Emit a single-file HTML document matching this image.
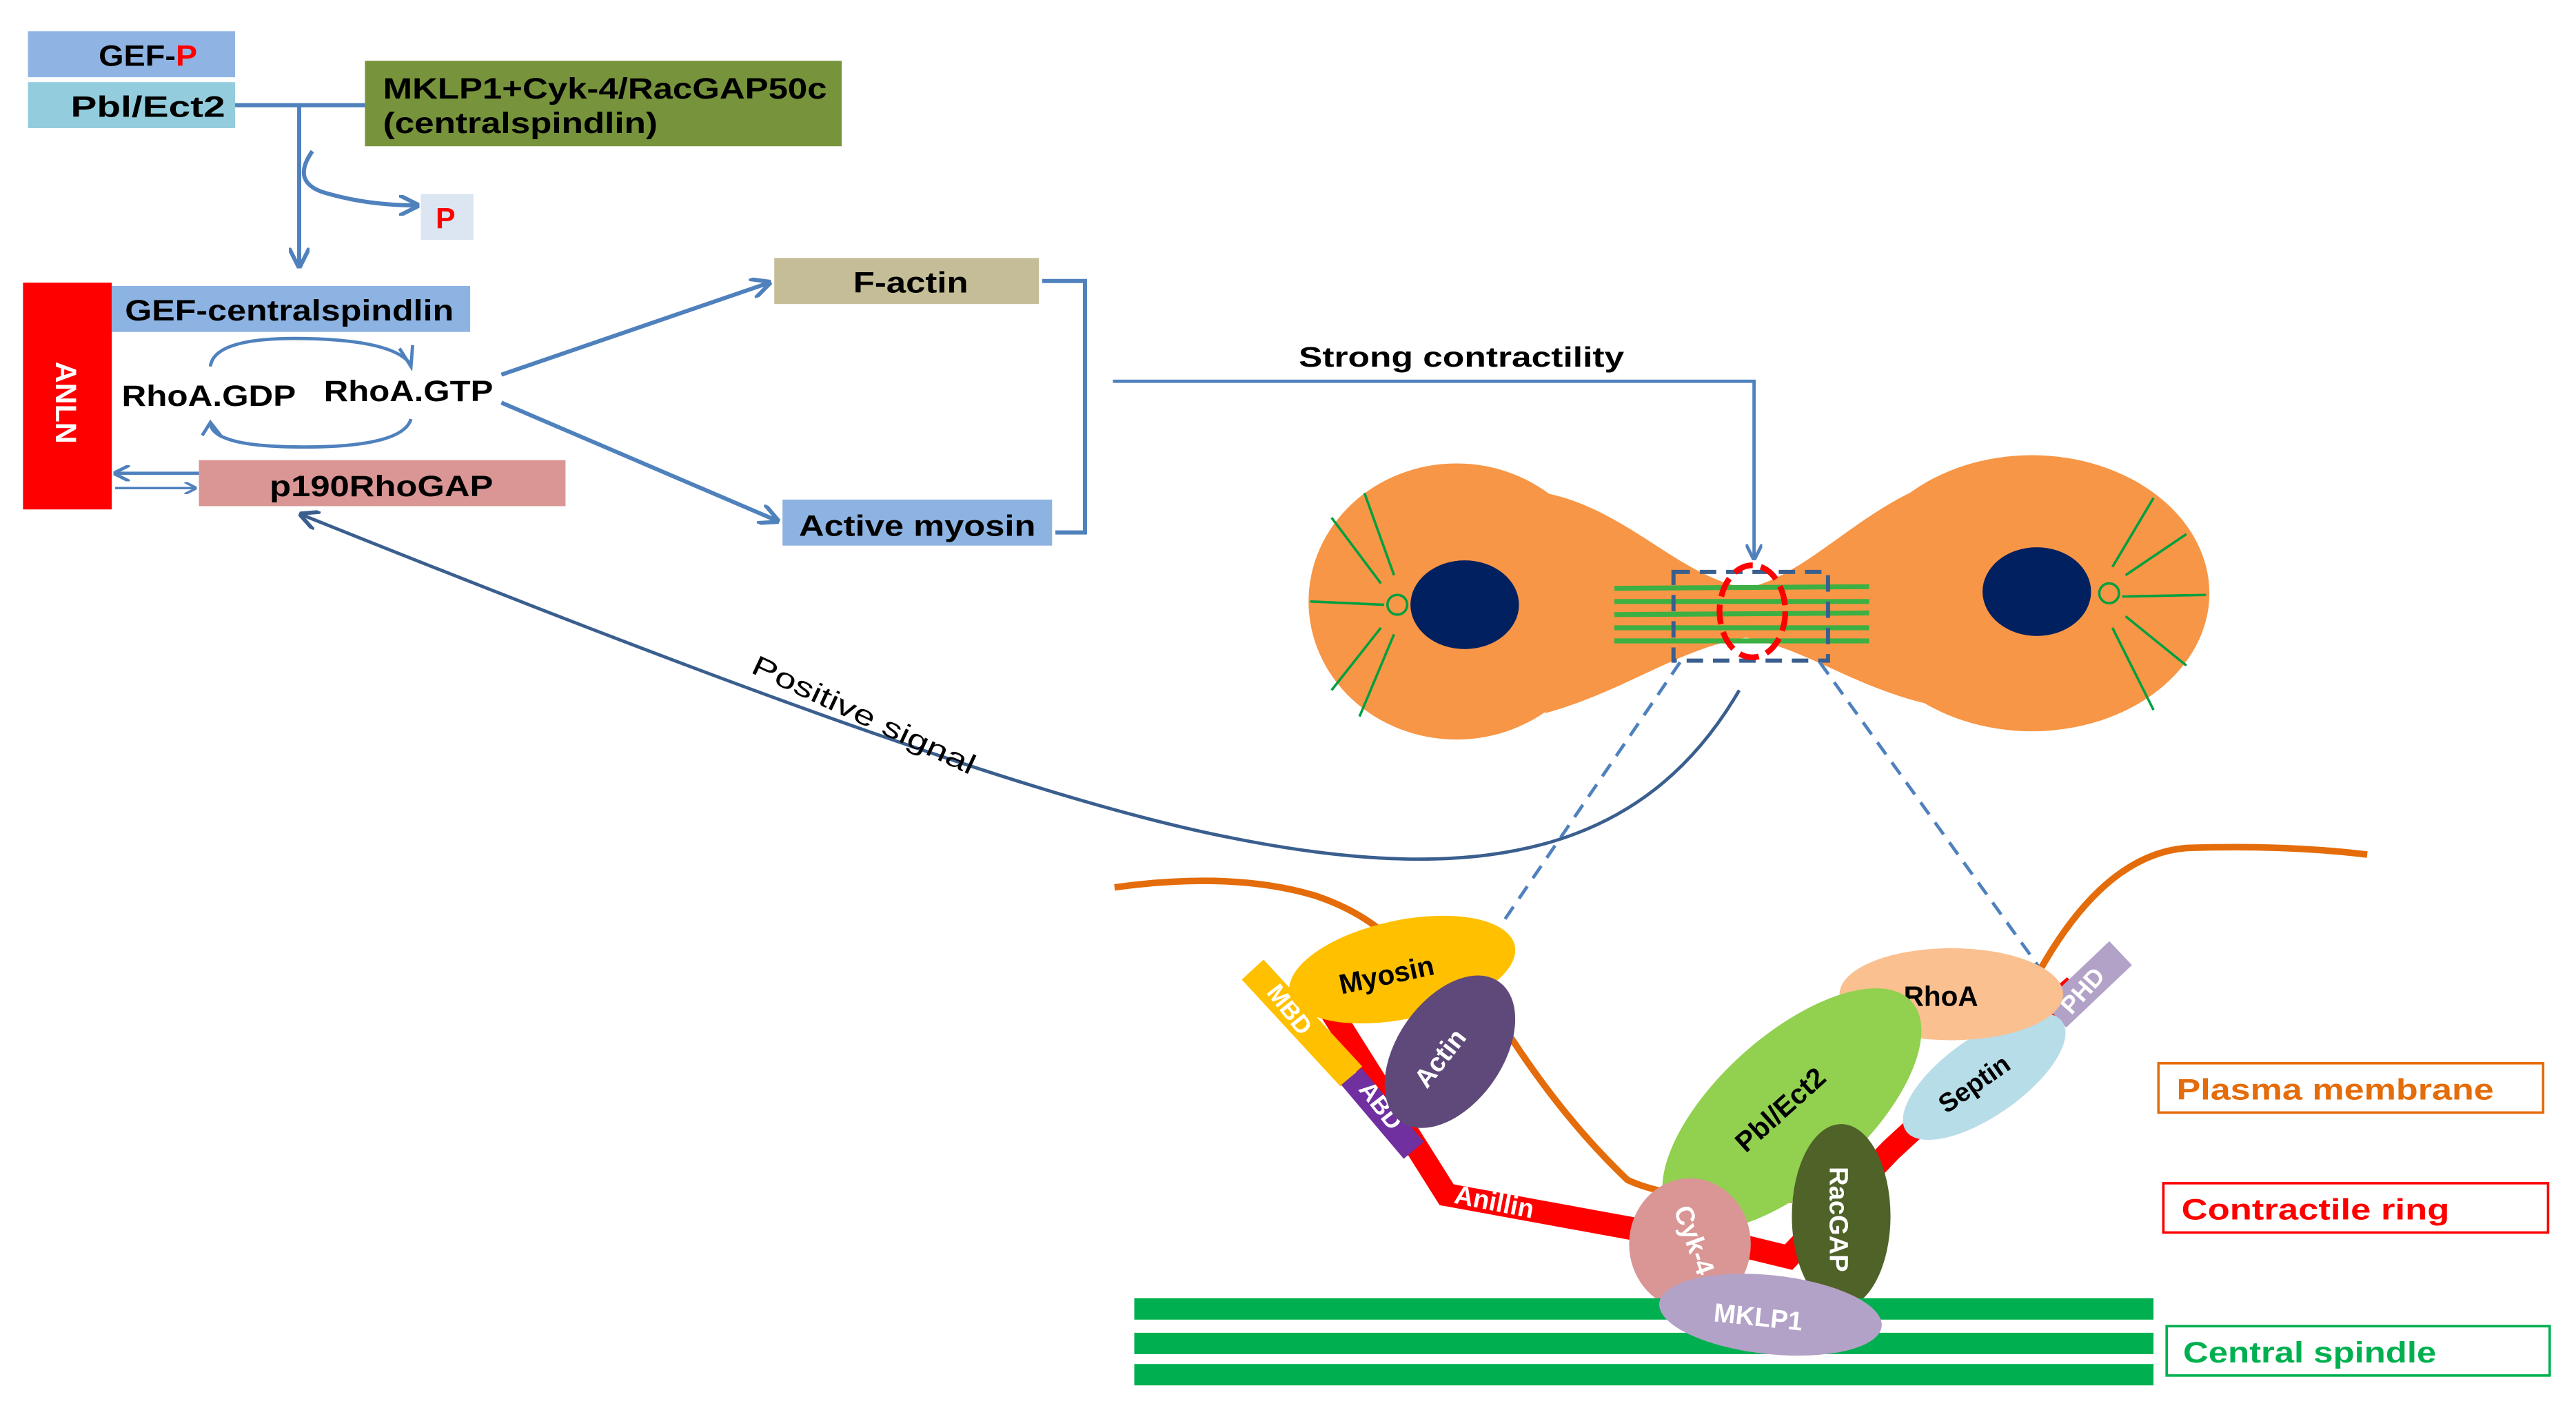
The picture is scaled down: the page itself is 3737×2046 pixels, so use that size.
<!DOCTYPE html>
<html><head><meta charset="utf-8"><style>
html,body{margin:0;padding:0;background:#fff;}
svg{display:block;}
text{font-family:"Liberation Sans",sans-serif;font-weight:bold;}
</style></head><body>
<svg width="3737" height="2046" viewBox="0 0 1567 858" preserveAspectRatio="none" xmlns="http://www.w3.org/2000/svg">
<defs>
<marker id="ah" viewBox="0 0 10 10" refX="9" refY="5" markerWidth="5" markerHeight="5" orient="auto"><path d="M0,0 L10,5 L0,10" fill="none" stroke="#4f81bd" stroke-width="2"/></marker>
<marker id="ah2" viewBox="0 0 10 10" refX="9" refY="5" markerWidth="6" markerHeight="6" orient="auto"><path d="M0,0 L10,5 L0,10" fill="none" stroke="#3a5f8f" stroke-width="2"/></marker>
</defs>
<rect x="17" y="19" width="126" height="28" fill="#8fb4e3"/>
<text x="60" y="40" font-size="18" textLength="60" lengthAdjust="spacingAndGlyphs">GEF-<tspan fill="#ff0000">P</tspan></text>
<rect x="17" y="50" width="126" height="28" fill="#93cddd"/>
<text x="43" y="71" font-size="18" textLength="94" lengthAdjust="spacingAndGlyphs">Pbl/Ect2</text>
<rect x="222" y="37" width="290" height="52" fill="#77933c"/>
<text x="233" y="60" font-size="18" textLength="270" lengthAdjust="spacingAndGlyphs">MKLP1+Cyk-4/RacGAP50c</text>
<text x="233" y="81" font-size="18" textLength="167" lengthAdjust="spacingAndGlyphs">(centralspindlin)</text>
<line x1="143" y1="64" x2="222" y2="64" stroke="#4f81bd" stroke-width="2.5"/>
<line x1="182" y1="64" x2="182" y2="162" stroke="#4f81bd" stroke-width="2.5" marker-end="url(#ah)"/>
<path d="M190,92 Q176,112 200,118 Q225,125 254,125" fill="none" stroke="#4f81bd" stroke-width="2.5" marker-end="url(#ah)"/>
<rect x="256" y="118" width="32" height="28" fill="#dce6f2"/>
<text x="265" y="139" font-size="18" fill="#ff0000">P</text>
<rect x="14" y="172" width="54" height="138" fill="#ff0000"/>
<text x="0" y="0" font-size="18" fill="#fff" transform="translate(34,220) rotate(90)">ANLN</text>
<rect x="68" y="174" width="218" height="28" fill="#8db3e2"/>
<text x="76" y="195" font-size="18" textLength="200" lengthAdjust="spacingAndGlyphs">GEF-centralspindlin</text>
<text x="74" y="247" font-size="18" textLength="106" lengthAdjust="spacingAndGlyphs">RhoA.GDP</text>
<text x="197" y="244" font-size="18" textLength="103" lengthAdjust="spacingAndGlyphs">RhoA.GTP</text>
<path d="M128,223 Q130,205 185,206 Q240,207 250,222" fill="none" stroke="#4f81bd" stroke-width="2"/>
<path d="M243,212 L250,223 L251,210" fill="none" stroke="#4f81bd" stroke-width="2"/>
<path d="M250,255 Q245,272 185,272 Q130,272 128,258" fill="none" stroke="#4f81bd" stroke-width="2"/>
<path d="M123,265 L128,257 L135,266" fill="none" stroke="#4f81bd" stroke-width="2"/>
<rect x="121" y="280" width="223" height="28" fill="#d99694"/>
<text x="164" y="302" font-size="18" textLength="136" lengthAdjust="spacingAndGlyphs">p190RhoGAP</text>
<line x1="121" y1="288" x2="70" y2="288" stroke="#4f81bd" stroke-width="2" marker-end="url(#ah)"/>
<line x1="70" y1="297" x2="119" y2="297" stroke="#4f81bd" stroke-width="1.5" marker-end="url(#ah)"/>
<rect x="471" y="157" width="161" height="28" fill="#c4bd97"/>
<text x="519" y="178" font-size="18" textLength="70" lengthAdjust="spacingAndGlyphs">F-actin</text>
<rect x="476" y="304" width="164" height="28" fill="#8db3e2"/>
<text x="486" y="326" font-size="18" textLength="144" lengthAdjust="spacingAndGlyphs">Active myosin</text>
<line x1="305" y1="228" x2="468" y2="172" stroke="#4f81bd" stroke-width="2.5" marker-end="url(#ah)"/>
<line x1="305" y1="245" x2="473" y2="317" stroke="#4f81bd" stroke-width="2.5" marker-end="url(#ah)"/>
<polyline points="634,171 660,171 660,324 642,324" fill="none" stroke="#4f81bd" stroke-width="2.5"/>
<polyline points="677,232 1067,232 1067,340" fill="none" stroke="#4f81bd" stroke-width="2" marker-end="url(#ah)"/>
<text x="790" y="223" font-size="17" textLength="198" lengthAdjust="spacingAndGlyphs">Strong contractility</text>
<g fill="#f79646">
<ellipse cx="886" cy="366" rx="90" ry="84"/>
<ellipse cx="1236" cy="361" rx="108" ry="84"/>
<path d="M940,300 C990,310 1020,350 1062,358 C1100,350 1130,310 1180,292 L1180,430 C1130,420 1100,395 1062,388 C1020,395 990,420 940,434 Z"/>
</g>
<ellipse cx="891" cy="368" rx="33" ry="27" fill="#002060"/>
<ellipse cx="1239" cy="360" rx="33" ry="27" fill="#002060"/>
<g stroke="#00a040" stroke-width="1.5" fill="none">
<circle cx="850" cy="368" r="6"/>
<circle cx="1283" cy="361" r="6"/>
<line x1="797" y1="366" x2="842" y2="368"/>
<line x1="810" y1="315" x2="840" y2="355"/>
<line x1="830" y1="300" x2="848" y2="350"/>
<line x1="810" y1="420" x2="840" y2="382"/>
<line x1="827" y1="436" x2="848" y2="386"/>
<line x1="1291" y1="363" x2="1342" y2="362"/>
<line x1="1293" y1="350" x2="1330" y2="325"/>
<line x1="1285" y1="345" x2="1310" y2="303"/>
<line x1="1293" y1="375" x2="1330" y2="405"/>
<line x1="1285" y1="382" x2="1310" y2="432"/>
</g>
<g stroke="#3cb043" stroke-width="3">
<line x1="982" y1="358" x2="1137" y2="357"/>
<line x1="982" y1="366" x2="1137" y2="366"/>
<line x1="982" y1="374" x2="1137" y2="373"/>
<line x1="982" y1="382" x2="1137" y2="382"/>
<line x1="982" y1="390" x2="1137" y2="390"/>
</g>
<rect x="1018" y="348" width="94" height="54" fill="none" stroke="#3a5f8f" stroke-width="2.5" stroke-dasharray="10,6"/>
<ellipse cx="1066" cy="372" rx="20" ry="28" fill="none" stroke="#ff0000" stroke-width="3.5" stroke-dasharray="12,5"/>
<line x1="1022" y1="403" x2="915" y2="560" stroke="#4f81bd" stroke-width="2" stroke-dasharray="9,6"/>
<line x1="1107" y1="403" x2="1240" y2="588" stroke="#4f81bd" stroke-width="2" stroke-dasharray="9,6"/>
<path d="M1058,420 C1000,520 900,540 750,510 C620,485 400,400 183,313" fill="none" stroke="#3a5f8f" stroke-width="2" marker-end="url(#ah2)"/>
<text x="0" y="0" font-size="17" style="font-weight:normal" textLength="148" lengthAdjust="spacingAndGlyphs" transform="translate(456,409) rotate(25)">Positive signal</text>
<path d="M678,540 Q750,530 800,545 Q830,555 850,575" fill="none" stroke="#e46c0a" stroke-width="4"/>
<path d="M915,625 Q950,680 990,718 Q1020,732 1090,730" fill="none" stroke="#e46c0a" stroke-width="4"/>
<path d="M1240,592 Q1280,520 1330,516 Q1390,514 1440,520" fill="none" stroke="#e46c0a" stroke-width="4"/>
<polyline points="800,600 880,727 995,748" fill="none" stroke="#ff0000" stroke-width="14" stroke-linejoin="miter"/>
<polyline points="1055,757 1088,765 1150,700 1215,640 1262,600" fill="none" stroke="#ff0000" stroke-width="14"/>
<line x1="762" y1="590" x2="822" y2="655" stroke="#ffc000" stroke-width="18"/>
<line x1="822" y1="655" x2="860" y2="700" stroke="#7030a0" stroke-width="16"/>
<text x="0" y="0" font-size="15" fill="#fff" transform="translate(770,604) rotate(52)">MBD</text>
<text x="0" y="0" font-size="15" fill="#fff" transform="translate(826,663) rotate(52)">ABD</text>
<text x="0" y="0" font-size="16" fill="#fff" transform="translate(884,732) rotate(11)">Anillin</text>
<ellipse cx="853" cy="590" rx="70" ry="30" transform="rotate(-12 853 590)" fill="#ffc000"/>
<text x="0" y="0" font-size="17" transform="translate(816,605) rotate(-12)">Myosin</text>
<ellipse cx="882" cy="640" rx="52" ry="32" transform="rotate(-55 882 640)" fill="#5f497a"/>
<text x="0" y="0" font-size="16" fill="#fff" transform="translate(868,663) rotate(-52)">Actin</text>
<line x1="1250" y1="618" x2="1290" y2="580" stroke="#b2a2c7" stroke-width="20"/>
<text x="0" y="0" font-size="15" fill="#fff" transform="translate(1260,618) rotate(-48)">PHD</text>
<ellipse cx="1207" cy="655" rx="58" ry="24" transform="rotate(-35 1207 655)" fill="#b7dde8"/>
<text x="0" y="0" font-size="16" transform="translate(1184,678) rotate(-35)">Septin</text>
<ellipse cx="1187" cy="605" rx="68" ry="28" fill="#fac090"/>
<text x="1158" y="612" font-size="17">RhoA</text>
<ellipse cx="1090" cy="675" rx="98" ry="45" transform="rotate(-42 1090 675)" fill="#92d050"/>
<text x="0" y="0" font-size="17" transform="translate(1062,702) rotate(-42)">Pbl/Ect2</text>
<ellipse cx="1028" cy="757" rx="37" ry="40" fill="#d99694"/>
<text x="0" y="0" font-size="16" fill="#fff" transform="translate(1018,736) rotate(70)">Cyk-4</text>
<ellipse cx="1120" cy="740" rx="30" ry="56" fill="#4f6228"/>
<text x="0" y="0" font-size="16" fill="#fff" transform="translate(1113,710) rotate(90)">RacGAP</text>
<g fill="#00b050">
<rect x="690" y="790" width="620" height="13"/>
<rect x="690" y="811" width="620" height="13"/>
<rect x="690" y="830" width="620" height="13"/>
</g>
<ellipse cx="1077" cy="800" rx="68" ry="24" transform="rotate(6 1077 800)" fill="#b3a2c7"/>
<text x="0" y="0" font-size="16" fill="#fff" transform="translate(1042,804) rotate(6)">MKLP1</text>
<rect x="1313" y="647" width="234" height="30" fill="#fff" stroke="#e46c0a" stroke-width="1.5"/>
<text x="1324" y="669" font-size="18" fill="#e46c0a" textLength="193" lengthAdjust="spacingAndGlyphs">Plasma membrane</text>
<rect x="1316" y="720" width="234" height="30" fill="#fff" stroke="#ff0000" stroke-width="1.5"/>
<text x="1327" y="742" font-size="18" fill="#ff0000" textLength="163" lengthAdjust="spacingAndGlyphs">Contractile  ring</text>
<rect x="1318" y="807" width="233" height="30" fill="#fff" stroke="#00b050" stroke-width="1.5"/>
<text x="1328" y="829" font-size="18" fill="#00b050" textLength="154" lengthAdjust="spacingAndGlyphs">Central spindle</text>
</svg>
</body></html>
